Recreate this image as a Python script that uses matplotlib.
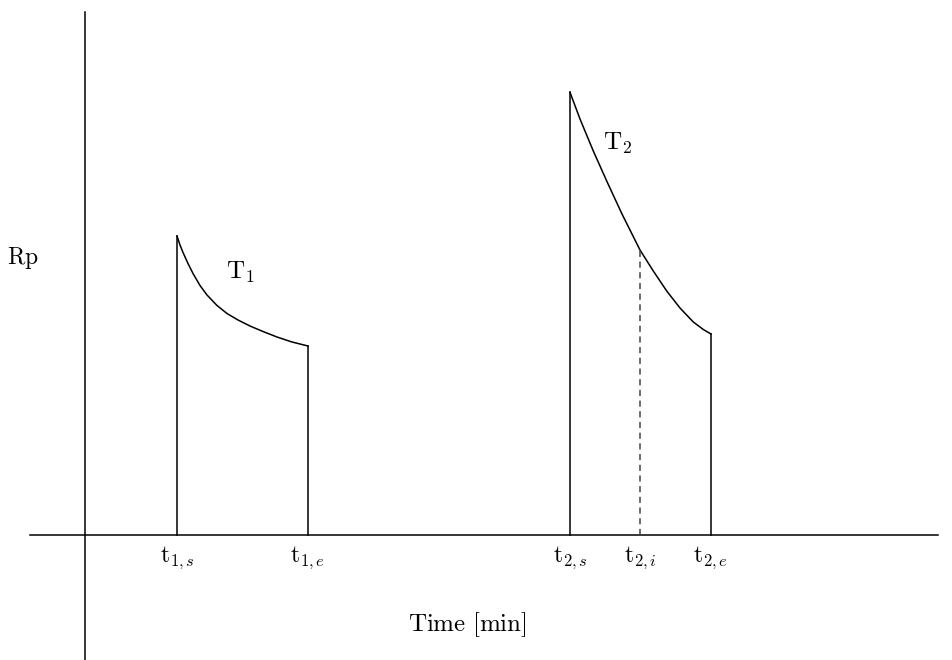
import numpy as np
import matplotlib
matplotlib.use('Agg')
import matplotlib.pyplot as plt

plt.rcParams['mathtext.fontset'] = 'cm'
plt.rcParams['font.family'] = ['DejaVu Serif']

# Start / end times of the two intervals
t1_start, t1_end = 9.2, 22.3
t2_start, t2_mid, t2_end = 48.5, 55.5, 62.6

# Rp decay during interval 1
t1_time = [9.2, 9.5, 9.8, 10.3, 10.8, 11.5, 12.2, 13.2, 14.2, 15.3, 16.5, 17.8, 19.2, 20.7, 22.3]
t1_rp = [29.9, 29.0, 28.25, 27.15, 26.15, 24.95, 24.0, 22.95, 22.15, 21.5, 20.9, 20.35, 19.8, 19.3, 18.9]

# Rp decay during interval 2
t2_time = [48.5, 49.5, 50.83, 52.17, 53.7, 54.6, 55.5, 56.83, 58.17, 59.5, 60.83, 61.83, 62.6]
t2_rp = [44.27, 41.6, 38.4, 35.4, 32.1, 30.3, 28.5, 26.4, 24.4, 22.7, 21.3, 20.55, 20.1]
t2_mid_rp = 28.5

tick_pos = [t1_start, t1_end, t2_start, t2_mid, t2_end]
tick_txt = [r'$\mathrm{t}_{1,s}$', r'$\mathrm{t}_{1,e}$', r'$\mathrm{t}_{2,s}$',
            r'$\mathrm{t}_{2,i}$', r'$\mathrm{t}_{2,e}$']

fig = plt.figure(figsize=(9.53, 6.6), dpi=100)
ax = fig.add_axes([0, 0, 1, 1])
ax.set_xlim(-8.5, 86.8)
ax.set_ylim(-12.5, 53.5)
ax.axis('off')

lw = 1.1
# coordinate axes
ax.plot([-5.5, 85.3], [0, 0], color='black', lw=lw)
ax.plot([0, 0], [-12.5, 52.3], color='black', lw=lw)

# interval 1
ax.plot([t1_start, t1_start], [0, t1_rp[0]], color='black', lw=lw)
ax.plot(t1_time, t1_rp, color='black', lw=lw, solid_joinstyle='round')
ax.plot([t1_end, t1_end], [0, t1_rp[-1]], color='black', lw=lw)

# interval 2
ax.plot([t2_start, t2_start], [0, t2_rp[0]], color='black', lw=lw)
ax.plot(t2_time, t2_rp, color='black', lw=lw, solid_joinstyle='round')
ax.plot([t2_end, t2_end], [0, t2_rp[-1]], color='black', lw=lw)
ax.plot([t2_mid, t2_mid], [0, t2_mid_rp], color='#444444', lw=lw, ls=(0, (4, 3)))

for x, s in zip(tick_pos, tick_txt):
    ax.text(x, -0.9, s, ha='center', va='top', fontsize=17)

ax.text(-6.2, 27.7, r'$\mathrm{Rp}$', ha='center', va='center', fontsize=17)
ax.text(15.5, 26.3, r'$\mathrm{T}_1$', ha='center', va='center', fontsize=18)
ax.text(53.3, 39.2, r'$\mathrm{T}_2$', ha='center', va='center', fontsize=18)
ax.text(38.2, -9.0, r'$\mathrm{Time\ [min]}$', ha='center', va='center', fontsize=18)

fig.savefig('out.png', dpi=100)
plt.close(fig)
